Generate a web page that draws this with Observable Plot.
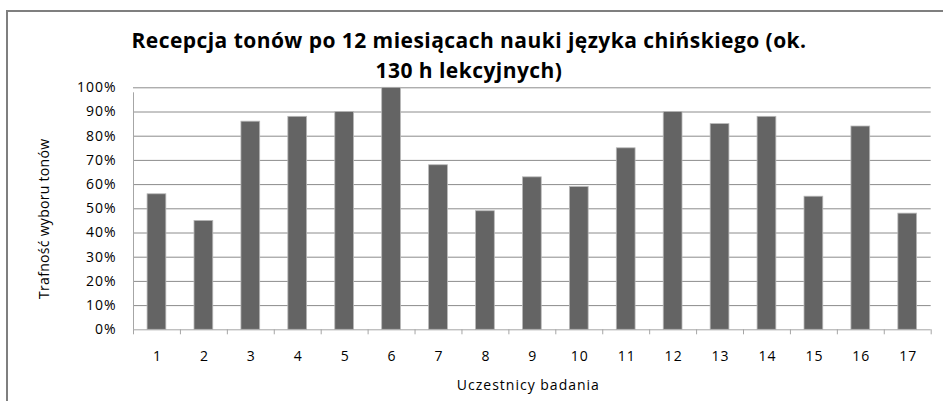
<!DOCTYPE html>
<html><head><meta charset="utf-8">
<script src="https://cdn.jsdelivr.net/npm/d3@7"></script>
<script src="https://cdn.jsdelivr.net/npm/@observablehq/plot@0.6"></script>
<style>
html,body{margin:0;padding:0;background:#fff;}
#wrap{position:relative;width:943px;height:401px;overflow:hidden;font-family:"Open Sans",sans-serif;}
#frame{position:absolute;left:6px;top:10px;width:1000px;height:500px;border-left:2px solid #7f7f7f;border-top:2px solid #7f7f7f;}
#title{position:absolute;left:0;top:0;width:938px;height:84px;box-sizing:border-box;padding-top:25px;text-align:center;font-weight:bold;font-size:21px;letter-spacing:0.45px;line-height:30px;color:#000;}
#chart{position:absolute;left:0;top:84px;}
.ylab text{letter-spacing:0.3px;}
</style>
</head><body>
<div id="wrap">
  <div id="frame"></div>
  <div id="title"></div>
  <div id="chart"></div>
</div>
<script>
const titleLines = ["Recepcja tonów po 12 miesiącach nauki języka chińskiego (ok.", "130 h lekcyjnych)"];
const participants = [1,2,3,4,5,6,7,8,9,10,11,12,13,14,15,16,17];
const accuracy = [56,45,86,88,90,100,68,49,63,59,75,90,85,88,55,84,48];
const yTicks = [0,10,20,30,40,50,60,70,80,90,100];
const yLabel = "Trafność wyboru tonów";
const xLabel = "Uczestnicy badania";

document.getElementById("title").innerHTML = titleLines.join("<br>");

const data = participants.map((p, i) => ({p, v: accuracy[i]}));
const boundaries = [participants[0] - 0.5, ...participants.map(p => p + 0.5)];
const grid = "#8c8c8c", axis = "#a6a6a6";
const font = "'Open Sans', sans-serif";

const chart = Plot.plot({
  width: 943,
  height: 317,
  marginTop: 3.3,
  marginBottom: 71.7,
  marginLeft: 133,
  marginRight: 12.3,
  style: {fontFamily: font, color: "#000", background: "transparent", overflow: "visible", letterSpacing: "1px"},
  x: {type: "linear", domain: [boundaries[0], boundaries[boundaries.length - 1]], label: null},
  y: {domain: [0, 100], label: null},
  marks: [
    Plot.ruleY(yTicks.slice(1), {y: d => d, stroke: grid, strokeWidth: 1}),
    Plot.rectY(data, {x1: d => d.p - 0.2, x2: d => d.p + 0.2, y: "v", fill: "#646464", stroke: "#b8b8b8", strokeWidth: 0.8}),
    Plot.ruleY([0], {stroke: axis}),
    Plot.ruleX([boundaries[0]], {y1: 0, y2: 100, stroke: axis, insetBottom: -5}),
    Plot.axisX(boundaries, {tickSize: 5, tickFormat: () => "", stroke: axis, strokeOpacity: 1, label: null}),
    Plot.axisX(participants, {tickSize: 0, tickPadding: 21, fontSize: 14, tickFormat: d => String(d), label: null, dx: 0.5}),
    Plot.axisY(yTicks, {tickSize: 0, tickPadding: 17, fontSize: 14, tickFormat: d => d + "%", label: null}),
    Plot.text([yLabel], {frameAnchor: "left", textAnchor: "middle", dx: -89, dy: 10, rotate: -90, fontSize: 14, fill: "#000", className: "ylab"}),
    Plot.text([xLabel], {frameAnchor: "bottom", dx: -4, dy: 60, fontSize: 14, fill: "#000"})
  ]
});
document.getElementById("chart").appendChild(chart);
</script>
</body></html>
